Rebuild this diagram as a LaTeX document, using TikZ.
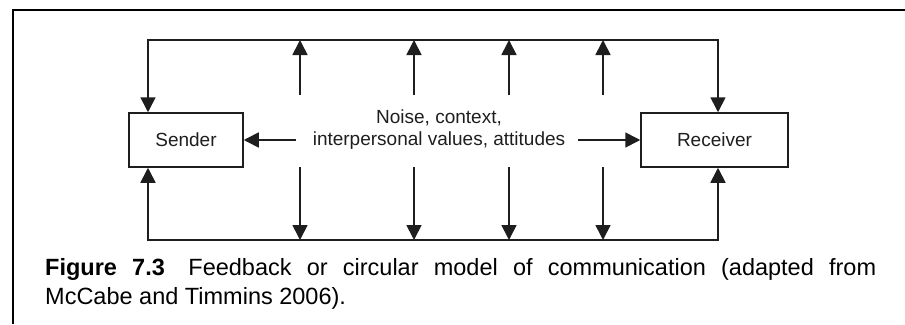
\documentclass[tikz,border=0pt]{standalone}
\usepackage{fontspec}
\setmainfont{Liberation Sans}
\usetikzlibrary{arrows.meta}
\definecolor{ink}{HTML}{1E1E1E}
\tikzset{
  box/.style={draw=ink, line width=1.5pt, fill=white, inner sep=0pt, font=\fontsize{19}{23}\selectfont, text=ink},
  arr/.style={draw=ink, line width=1.7pt, -{Triangle[length=15pt,width=15pt]}},
  arrboth/.style={draw=ink, line width=1.7pt, {Triangle[length=15pt,width=15pt]}-{Triangle[length=15pt,width=15pt]}},
  frame/.style={draw=black, line width=1.3pt},
}
\begin{document}
\begin{tikzpicture}[x=1pt,y=-1pt]
\useasboundingbox (0,0) rectangle (905,324);
% frame
\coordinate (f1) at (13,324);
\coordinate (f2) at (13,10);
\coordinate (f3) at (905,10);
\draw[frame] (f1) -- (f2) -- (f3);
% boxes
\node[box, minimum width=114pt, minimum height=54pt] (S) at (186,140) {Sender};
\node[box, minimum width=147pt, minimum height=54pt] (R) at (714.5,140) {Receiver};
% middle text
\node[font=\fontsize{19}{22}\selectfont, text=ink, align=center, inner sep=0pt, anchor=base] (N) at (439,145) {Noise, context,\\interpersonal values, attitudes};
% horizontal arrows
\coordinate (nl) at (296,140);
\coordinate (nr) at (578,140);
\draw[arr] (nl) -- (nl -| S.east);
\draw[arr] (nr) -- (nr -| R.west);
% feedback loop corners
\coordinate (tl) at (148,40);
\coordinate (tr) at (718,40);
\coordinate (bl) at (148,240);
\coordinate (br) at (718,240);
\draw[arrboth] (tl |- S.north) -- (tl) -- (tr) -- (tr |- R.north);
\draw[arrboth] (bl |- S.south) -- (bl) -- (br) -- (br |- R.south);
% vertical noise arrows
\foreach \i/\x in {1/300,2/414,3/509,4/603}{
  \coordinate (u\i) at (\x,95);
  \coordinate (d\i) at (\x,167);
  \draw[arr] (u\i) -- (u\i |- tl);
  \draw[arr] (d\i) -- (d\i |- bl);
}
% caption
\node[anchor=base west, inner sep=0pt, text width=831pt, align=justify, font=\fontsize{23.5}{29}\selectfont, text=black] (cap) at (45,275)
 {\textbf{Figure 7.3}\quad Feedback or circular model of communication (adapted from\linebreak McCabe and Timmins 2006).};
\end{tikzpicture}
\end{document}
